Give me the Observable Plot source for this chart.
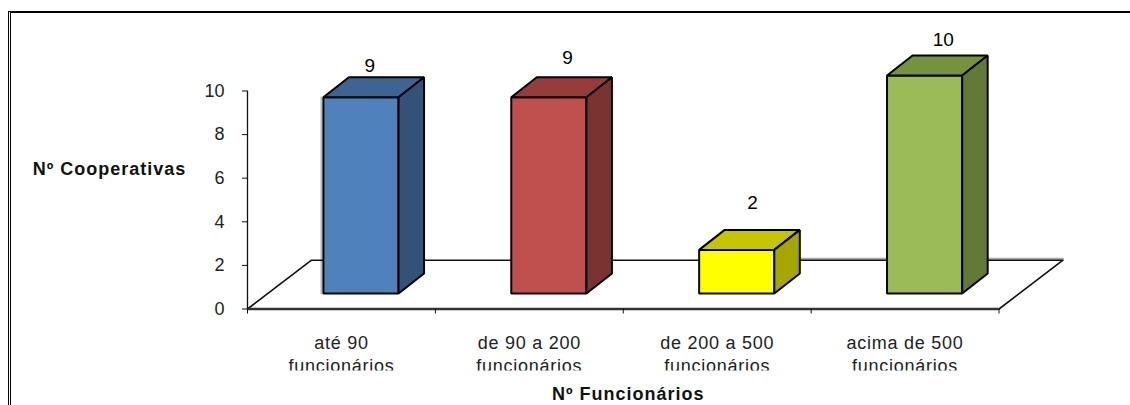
<!DOCTYPE html>
<html><head><meta charset="utf-8">
<script src="https://cdn.jsdelivr.net/npm/d3@7"></script>
<script src="https://cdn.jsdelivr.net/npm/@observablehq/plot@0.6"></script>
<style>
html,body{margin:0;padding:0;background:#fff;overflow:hidden}
#wrap{position:relative;width:1130px;height:405px;overflow:hidden}
#frame{position:absolute;left:8px;top:11px;width:1200px;height:500px;border-top:2px solid #000;border-left:3px double #000}
svg{position:absolute;left:0;top:0;font-family:"Liberation Sans",Arial,sans-serif}
</style></head><body><div id="wrap"><div id="frame"></div></div>
<script>
const categories = ["até 90\nfuncionários","de 90 a 200\nfuncionários","de 200 a 500\nfuncionários","acima de 500\nfuncionários"];
const values = [9,9,2,10];
const frontColors = ["#4F81BD","#C0504D","#FFFF00","#9BBB59"];
const topColors = ["#3E6491","#953D3B","#C4C400","#77923F"];
const sideColors = ["#325277","#7B3331","#A6A600","#647838"];
const yTicks = [0,2,4,6,8,10];
const xTicks = [0,1,2,3,4];
const xTitle = "Nº Funcionários";
const yTitle = "Nº Cooperativas";

const left=247,right=998.5,y0=308.5,y10=90.5;
const ux=(right-left)/4, uy=(y0-y10)/10;
const barOff=0.404, barW=0.4, lift=15.5/uy, depX=25.5/ux, depY=20/uy;
const floorDX=64/ux, floorDY=48.8/uy;
const faces=[];
values.forEach((v,i)=>{
  const a=i+barOff,b=a+barW,lo=lift,hi=lift+v;
  const add=(name,color,pts)=>pts.forEach(([x,y])=>faces.push({id:i+name,color,x,y}));
  add("f",frontColors[i],[[a,lo],[b,lo],[b,hi],[a,hi]]);
  add("t",topColors[i],[[a,hi],[b,hi],[b+depX,hi+depY],[a+depX,hi+depY]]);
  add("s",sideColors[i],[[b,lo],[b+depX,lo+depY],[b+depX,hi+depY],[b,hi]]);
});
const floor=[[0,0],[floorDX,floorDY],[4+floorDX,floorDY],[4,0]].map(([x,y])=>({x,y}));
const backShade=[[2.9,floorDY+1.5/uy],[4+floorDX,floorDY+1.5/uy]].map(([x,y])=>({x,y}));
const leftShade=[[barOff-2/ux,lift],[barOff-2/ux,lift+values[0]]].map(([x,y])=>({x,y}));
const nudge=[[-4,-11.7],[6,-19.7],[3,-27],[6,-16]];
const labels=values.map((v,i)=>({v,x:i+barOff+(barW+depX)/2+nudge[i][0]/ux,y:lift+v+depY-nudge[i][1]/uy}));

const chart=Plot.plot({
  width:1130,height:405,
  marginLeft:left,marginRight:1130-right,marginTop:y10,marginBottom:405-y0,
  style:{background:"transparent",color:"#111",fontFamily:'"Liberation Sans",Arial,sans-serif'},
  x:{domain:[0,4]},y:{domain:[0,10]},
  color:{type:"identity"},
  marks:[
    Plot.line(backShade,{x:"x",y:"y",stroke:"#aaa",strokeWidth:2}),
    Plot.line(leftShade,{x:"x",y:"y",stroke:"#bbb",strokeWidth:2}),
    Plot.line(floor,{x:"x",y:"y",curve:"linear-closed",stroke:"#111",strokeWidth:1.6,fill:"none"}),
    Plot.ruleY([0],{stroke:"#333",strokeWidth:2.5}),
    Plot.ruleX([0],{y1:0,y2:10,stroke:"#111",strokeWidth:1.3}),
    Plot.axisY({ticks:yTicks,tickSize:5,tickPadding:18,fontSize:18,label:null,tickFormat:d=>String(d),fill:"#222"}),
    Plot.axisX({ticks:xTicks,tickSize:5,tickFormat:()=>"",label:null}),
    Plot.line(faces,{x:"x",y:"y",z:"id",fill:d=>d.color,stroke:"#000",strokeWidth:2,curve:"linear-closed",strokeLinejoin:"miter"}),
    Plot.text(labels,{x:"x",y:"y",text:d=>String(d.v),fontSize:19,fill:"#000",lineAnchor:"middle"}),
    Plot.text(categories,{x:(d,i)=>i+0.5,y:()=>0,text:d=>d,fontSize:18,lineHeight:1.28,dy:23.5,lineAnchor:"top",fill:"#222"}),
    Plot.rect([0],{x1:()=>0,x2:()=>4,y1:()=>-(370.5-y0)/uy,y2:()=>-(376-y0)/uy,fill:()=>"#fff"}),
    Plot.text([yTitle],{x:()=>0,y:()=>6.4,dx:-138,text:d=>d,fontSize:18,fontWeight:"bold",fill:"#111"}),
    Plot.text([xTitle],{x:()=>2,y:()=>0,dy:85,dx:5,text:d=>d,fontSize:18,fontWeight:"bold",fill:"#111"})
  ]
});
chart.querySelectorAll("text").forEach(t=>{
  const s=t.textContent;
  if(s===xTitle||s===yTitle) t.style.letterSpacing="1px";
  else if(s.includes("funcion")) t.style.letterSpacing="0.75px";
});
document.getElementById("wrap").appendChild(chart);
</script></body></html>
